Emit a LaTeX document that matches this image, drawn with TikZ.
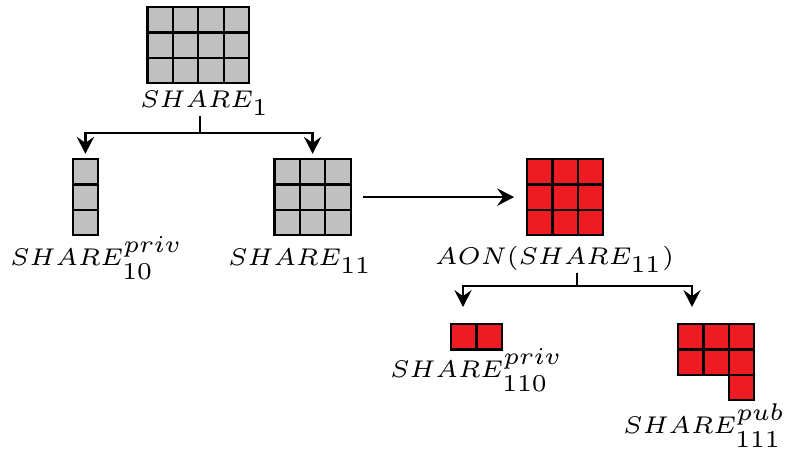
\documentclass[tikz,border=0pt]{standalone}
\usetikzlibrary{arrows.meta,fit}
\DeclareMathSizes{6}{6}{6}{6}
\definecolor{cellgray}{RGB}{192,192,192}
\definecolor{cellred}{RGB}{237,28,36}
\begin{document}
\begin{tikzpicture}[x=0.248pt,y=-0.248pt, line width=0.58pt,
  gc/.style={draw=black, fill=cellgray},
  rc/.style={draw=black, fill=cellred},
  lbl/.style={inner sep=0pt, anchor=base west, font=\fontsize{6}{7}\selectfont},
  holder/.style={inner sep=0pt, draw=none},
  arr/.style={-{Stealth[length=4.2pt,width=4.3pt,inset=1.5pt]}}]
\useasboundingbox (0,0) rectangle (786,450);
\pgfmathsetmacro\cellsz{25.4}
% SHARE_1 grid (4x3)
\foreach \i in {0,...,3} \foreach \j in {0,...,2}
  \draw[gc] ({147.5+\i*\cellsz},{7+\j*\cellsz}) rectangle ++(\cellsz,\cellsz);
\node[holder, fit={(147.5,7) (249.1,83.2)}] (g1) {};
% SHARE_10 grid (1x3)
\foreach \j in {0,...,2}
  \draw[gc] (72.7,{159+\j*\cellsz}) rectangle ++(\cellsz,\cellsz);
\node[holder, fit={(72.7,159) (98.1,235.2)}] (g10) {};
% SHARE_11 grid (3x3)
\foreach \i in {0,...,2} \foreach \j in {0,...,2}
  \draw[gc] ({274.5+\i*\cellsz},{159+\j*\cellsz}) rectangle ++(\cellsz,\cellsz);
\node[holder, fit={(274.5,159) (350.7,235.2)}] (g11) {};
% AON grid (3x3)
\foreach \i in {0,...,2} \foreach \j in {0,...,2}
  \draw[rc] ({527+\i*\cellsz},{159+\j*\cellsz}) rectangle ++(\cellsz,\cellsz);
\node[holder, fit={(527,159) (603.2,235.2)}] (gaon) {};
% SHARE_110 grid (2x1)
\foreach \i in {0,...,1}
  \draw[rc] ({451+\i*\cellsz},324) rectangle ++(\cellsz,\cellsz);
\node[holder, fit={(451,324) (501.8,349.4)}] (g110) {};
% SHARE_111 grid (L shape)
\foreach \i in {0,...,2} \foreach \j in {0,...,1}
  \draw[rc] ({678+\i*\cellsz},{324+\j*\cellsz}) rectangle ++(\cellsz,\cellsz);
\draw[rc] ({678+2*\cellsz},{324+2*\cellsz}) rectangle ++(\cellsz,\cellsz);
\node[holder, fit={(678,324) (754.2,400.2)}] (g111) {};
% labels
\node[lbl] (l1) at (139,108) {$SHARE_1$};
\node[lbl] (l10) at (9,266) {$SHARE_{10}^{priv}$};
\node[lbl] (l11) at (227,266) {$SHARE_{11}$};
\node[lbl] (laon) at (434,265) {$AON(SHARE_{11})$};
\node[lbl] (l110) at (389,378) {$SHARE_{110}^{priv}$};
\node[lbl] (l111) at (622,434) {$SHARE_{111}^{pub}$};
% connectors
\coordinate (j1) at (200,133);
\draw (j1 |- l1.south) -- (j1);
\draw[arr, shorten >=1pt] (j1) -| (g10.north);
\draw[arr, shorten >=1pt] (j1) -| (g11.north);
\draw[arr, shorten <=2.8pt, shorten >=2.9pt] (g11) -- (gaon);
\coordinate (j2) at (577,286);
\coordinate (t110) at (463,307);
\coordinate (t111) at (692,307);
\draw (j2 |- laon.south) -- (j2);
\draw[arr] (j2) -| (t110);
\draw[arr] (j2) -| (t111);
\end{tikzpicture}
\end{document}
